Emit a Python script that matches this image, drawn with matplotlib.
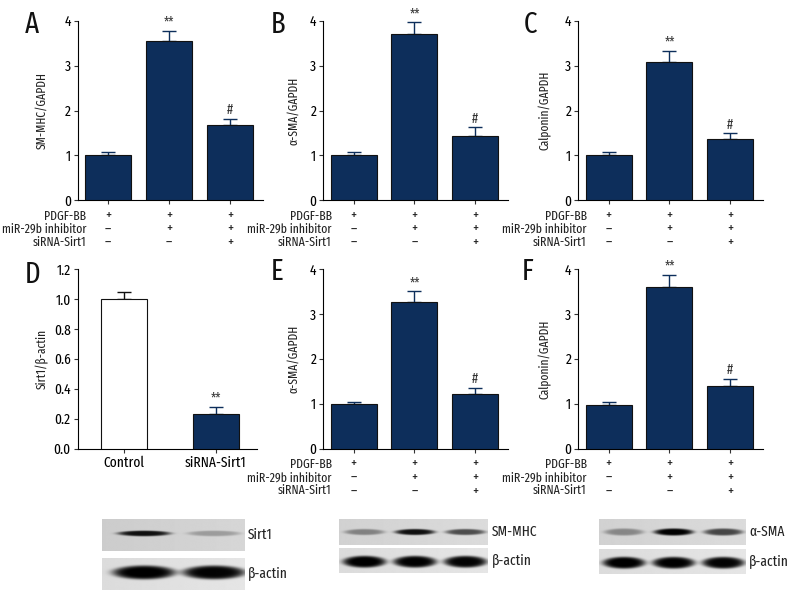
import numpy as np
import matplotlib
matplotlib.use('Agg')
import matplotlib.pyplot as plt

plt.rcParams['font.family'] = ['Fira Sans Extra Condensed', 'DejaVu Sans']
plt.rcParams['axes.linewidth'] = 0.8

# bar data
cond_rows = ['PDGF-BB', 'miR-29b inhibitor', 'siRNA-Sirt1']
cond_signs = [['+', '+', '+'], ['\u2013', '+', '+'], ['\u2013', '\u2013', '+']]

smmhc_a = [1.02, 3.55, 1.68]
smmhc_a_err = [0.06, 0.23, 0.14]
asma_b = [1.00, 3.71, 1.44]
asma_b_err = [0.08, 0.25, 0.19]
calp_c = [1.01, 3.09, 1.36]
calp_c_err = [0.07, 0.24, 0.13]
sirt1_groups = ['Control', 'siRNA-Sirt1']
sirt1_d = [1.00, 0.23]
sirt1_d_err = [0.045, 0.047]
asma_e = [0.99, 3.27, 1.22]
asma_e_err = [0.06, 0.23, 0.14]
calp_f = [0.98, 3.61, 1.40]
calp_f_err = [0.06, 0.26, 0.16]
sig3 = ['', '**', '#']
sig2 = ['', '**']

# western blot band darkness (0 = none, 1 = black)
blot1_sirt1 = [0.75, 0.22]
blot1_actin = [0.88, 0.88]
blot2_smmhc = [0.32, 0.78, 0.55]
blot2_actin = [0.88, 0.88, 0.88]
blot3_asma = [0.30, 0.85, 0.58]
blot3_actin = [0.88, 0.88, 0.88]

NAVY = '#0d2e5b'
W, H = 792, 600
fig = plt.figure(figsize=(W / 100, H / 100), dpi=100)


def px_axes(l, t, r, b):
    return fig.add_axes([l / W, 1 - b / H, (r - l) / W, (b - t) / H])


def bar_panel(box, vals, errs, ylabel, letter, sig, xlim, ylim, yticks,
              colors, tick_labels=None, fmt='{:.0f}'):
    ax = px_axes(*box)
    x = np.arange(len(vals))
    width = 46 / ((box[2] - box[0]) / (xlim[1] - xlim[0]))
    ax.bar(x, vals, width=width, color=colors, edgecolor='#111111',
           linewidth=0.8, zorder=3)
    ecol = ['#111111' if c == 'white' else NAVY for c in colors]
    for xi, v, e, ec in zip(x, vals, errs, ecol):
        ax.errorbar(xi, v, yerr=[[0], [e]], color=ec, capsize=5,
                    elinewidth=1, capthick=1, zorder=2)
    for xi, v, e, s in zip(x, vals, errs, sig):
        if s:
            ax.annotate(s, (xi, v + e), xytext=(0, 1), textcoords='offset points',
                        ha='center', va='bottom', fontsize=10, color='#333333')
    ax.set_xlim(*xlim)
    ax.set_ylim(*ylim)
    ax.set_yticks(yticks)
    ax.set_yticklabels([fmt.format(t) for t in yticks])
    ax.set_xticks(x)
    if tick_labels is None:
        ax.set_xticklabels([])
    else:
        ax.set_xticklabels(tick_labels)
    ax.tick_params(direction='out', length=3, width=0.8, labelsize=10.5,
                   color='#333333', pad=2)
    ax.spines['top'].set_visible(False)
    ax.spines['right'].set_visible(False)
    cy = (box[1] + box[3]) / 2
    fig.text((box[0] + ylabel[1]) / W, 1 - cy / H, ylabel[0], rotation=90,
             ha='center', va='center', fontsize=9, color='#222222')
    fig.text(letter[1] / W, 1 - letter[2] / H, letter[0], ha='left', va='center',
             fontsize=21, color='#111111')
    if tick_labels is None:
        # three condition rows, written as one block per column
        ax.annotate('\n'.join(cond_rows), (0, 0), xycoords='axes fraction',
                    xytext=(6, -20.9), textcoords='offset points', ha='right',
                    va='center', multialignment='right', linespacing=1.05,
                    fontsize=9.2, color='#222222')
        for xi, col in zip(x, zip(*cond_signs)):
            ax.annotate('\n'.join(col), (xi, 0), xycoords=('data', 'axes fraction'),
                        xytext=(0, -20.9), textcoords='offset points',
                        ha='center', va='center', multialignment='center',
                        linespacing=0.96, fontsize=10.5, color='#222222')
    return ax


lim3 = (-0.5, 2.54)
bar_panel((77.7, 20.7, 263, 200.3), smmhc_a, smmhc_a_err, ('SM-MHC/GAPDH', -36),
          ('A', 25, 25), sig3, lim3, (0, 4), [0, 1, 2, 3, 4], [NAVY] * 3)
bar_panel((323.3, 20.7, 508, 200.3), asma_b, asma_b_err, ('\u03b1-SMA/GAPDH', -30),
          ('B', 271, 25), sig3, lim3, (0, 4), [0, 1, 2, 3, 4], [NAVY] * 3)
bar_panel((578.3, 20.7, 763, 200.3), calp_c, calp_c_err, ('Calponin/GAPDH', -33),
          ('C', 524, 25), sig3, lim3, (0, 4), [0, 1, 2, 3, 4], [NAVY] * 3)
bar_panel((77.7, 269, 257, 448.7), sirt1_d, sirt1_d_err, ('Sirt1/\u03b2-actin', -35),
          ('D', 25, 275), sig2, (-0.503, 1.45), (0, 1.2),
          [0, 0.2, 0.4, 0.6, 0.8, 1.0, 1.2], ['white', NAVY],
          tick_labels=sirt1_groups, fmt='{:.1f}')
bar_panel((323.3, 269, 508, 448.7), asma_e, asma_e_err, ('\u03b1-SMA/GAPDH', -30),
          ('E', 271, 272), sig3, lim3, (0, 4), [0, 1, 2, 3, 4], [NAVY] * 3)
bar_panel((578.3, 269, 763, 448.7), calp_f, calp_f_err, ('Calponin/GAPDH', -33),
          ('F', 522, 272), sig3, lim3, (0, 4), [0, 1, 2, 3, 4], [NAVY] * 3)


def blot_strip(box, dark, xlim, half_w, half_h, yc, bg, label, label_x):
    ax = px_axes(*box)
    nx, ny = 300, 60
    xs = np.linspace(xlim[0], xlim[1], nx)
    ys = np.linspace(0, 1, ny)
    X, Y = np.meshgrid(xs, ys)
    img = bg + 0.04 * (X - xlim[0]) / (xlim[1] - xlim[0])
    for i, d in enumerate(dark):
        r = ((X - i) / half_w) ** 2 + ((Y - yc) / half_h) ** 2
        img = img - d * np.exp(-r ** 3)
    ax.imshow(np.clip(img, 0, 1), cmap='gray', vmin=0, vmax=1, aspect='auto',
              extent=(xlim[0], xlim[1], 1, 0), interpolation='bilinear')
    ax.set_axis_off()
    cy = (box[1] + box[3]) / 2
    fig.text(label_x / W, 1 - cy / H, label, ha='left', va='center',
             fontsize=10.5, color='#222222')


blot_strip((101.7, 519.3, 244, 551), blot1_sirt1, (-0.6, 1.44), 0.38, 0.09, 0.45,
           0.80, 'Sirt1', 248)
blot_strip((101.7, 558, 244, 590), blot1_actin, (-0.6, 1.44), 0.45, 0.22, 0.45,
           0.86, '\u03b2-actin', 248)
blot_strip((339, 519, 488, 545), blot2_smmhc, (-0.5, 2.44), 0.40, 0.12, 0.5,
           0.82, 'SM-MHC', 492)
blot_strip((339, 548, 488, 573), blot2_actin, (-0.5, 2.44), 0.43, 0.24, 0.55,
           0.86, '\u03b2-actin', 492)
blot_strip((599, 519, 746, 545), blot3_asma, (-0.5, 2.45), 0.40, 0.14, 0.5,
           0.82, '\u03b1-SMA', 749)
blot_strip((599, 549, 746, 574), blot3_actin, (-0.5, 2.45), 0.43, 0.24, 0.55,
           0.86, '\u03b2-actin', 749)

fig.savefig('out.png', dpi=100)
